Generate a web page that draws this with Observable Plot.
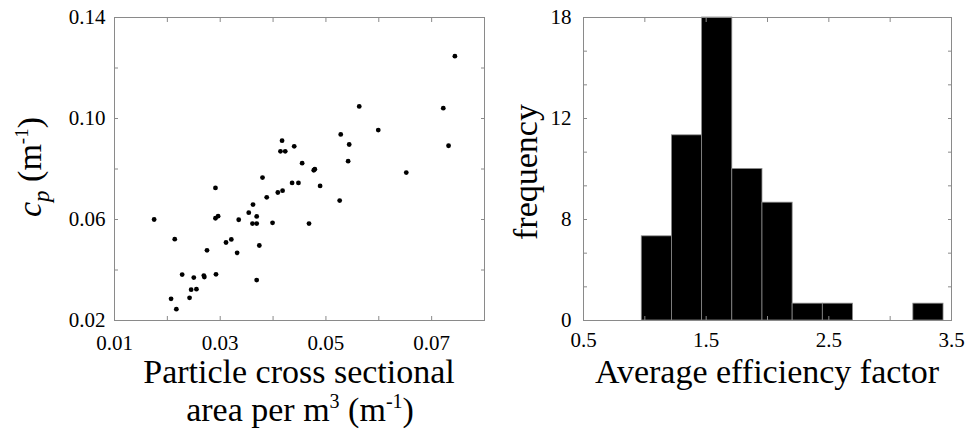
<!DOCTYPE html>
<html><head><meta charset="utf-8">
<script src="https://cdn.jsdelivr.net/npm/d3@7"></script>
<script src="https://cdn.jsdelivr.net/npm/@observablehq/plot@0.6"></script>
<style>
body{margin:0;background:#fff;}
#wrap{display:flex;flex-direction:row;width:975px;height:431px;}
#wrap svg{flex:none;}
</style></head><body><div id="wrap"></div>
<script>
// Left panel: scatter
const areaPerM3 = [0.0175, 0.0214, 0.0207, 0.0217, 0.0228, 0.0242, 0.0245, 0.0250, 0.0255, 0.0269, 0.0270, 0.0275, 0.0291, 0.0291, 0.0296, 0.0292, 0.0311, 0.0321, 0.0332, 0.0335, 0.0354, 0.0362, 0.0361, 0.0369, 0.0369, 0.0369, 0.0374, 0.0380, 0.0388, 0.0399, 0.0409, 0.0418, 0.0414, 0.0423, 0.0417, 0.0436, 0.0440, 0.0448, 0.0455, 0.0468, 0.0477, 0.0479, 0.0489, 0.0526, 0.0528, 0.0542, 0.0544, 0.0563, 0.0599, 0.0652, 0.0722, 0.0732, 0.0744];
const cp = [0.0600, 0.0522, 0.0286, 0.0245, 0.0382, 0.0290, 0.0322, 0.0370, 0.0324, 0.0378, 0.0372, 0.0478, 0.0725, 0.0605, 0.0613, 0.0383, 0.0509, 0.0521, 0.0468, 0.0599, 0.0627, 0.0659, 0.0584, 0.0584, 0.0612, 0.0360, 0.0497, 0.0766, 0.0688, 0.0587, 0.0707, 0.0714, 0.0870, 0.0870, 0.0912, 0.0745, 0.0890, 0.0745, 0.0823, 0.0584, 0.0795, 0.0799, 0.0733, 0.0675, 0.0937, 0.0831, 0.0897, 0.1048, 0.0954, 0.0786, 0.1041, 0.0892, 0.1247];
const xTicksL = [0.01, 0.02, 0.03, 0.04, 0.05, 0.06, 0.07, 0.08];
const xTickLabelsL = ["0.01", "", "0.03", "", "0.05", "", "0.07", ""];
const yTicksL = [0.02, 0.04, 0.06, 0.08, 0.10, 0.12, 0.14];
const yTickLabelsL = ["0.02", "", "0.06", "", "0.10", "", "0.14"];

// Right panel: histogram
const binLo = [0.975, 1.221, 1.467, 1.713, 1.959, 2.205, 2.451, 2.697, 2.943, 3.189];
const binHi = [1.221, 1.467, 1.713, 1.959, 2.205, 2.451, 2.697, 2.943, 3.189, 3.435];
const counts = [5, 11, 18, 9, 7, 1, 1, 0, 0, 1];
const xTicksR = [0.5, 1.0, 1.5, 2.0, 2.5, 3.0, 3.5];
const xTickLabelsR = ["0.5", "", "1.5", "", "2.5", "", "3.5"];
const yTicksR = [0, 2, 4, 6, 8, 10, 12, 14, 16, 18];
const yTickLabelsR = ["0", "", "", "8", "", "", "12", "", "", "18"];

const gray = "#8a8a8a";
const serifFont = "Liberation Serif";
const plotStyle = "font-family: 'Liberation Serif'; font-size: 21px;";
const lab = (ticks, labels) => d => labels[ticks.indexOf(d)];
const blank = () => "";

const points = areaPerM3.map((x, i) => ({x, y: cp[i]}));
const bins = counts.map((n, i) => ({lo: binLo[i], hi: binHi[i], n})).filter(d => d.n > 0);

const leftPlot = Plot.plot({
  width: 500, height: 431,
  marginLeft: 114, marginRight: 16, marginTop: 17, marginBottom: 111,
  style: plotStyle,
  x: {domain: [0.01, 0.08]},
  y: {domain: [0.02, 0.14]},
  marks: [
    Plot.frame({stroke: gray}),
    Plot.axisX(xTicksL, {anchor: "bottom", tickSize: -4, tickPadding: 19, stroke: gray, fill: "black", tickFormat: lab(xTicksL, xTickLabelsL), label: null}),
    Plot.axisX(xTicksL, {anchor: "top", tickSize: -4, stroke: gray, tickFormat: blank, label: null}),
    Plot.axisY(yTicksL, {anchor: "left", tickSize: -4, tickPadding: 13, stroke: gray, fill: "black", tickFormat: lab(yTicksL, yTickLabelsL), label: null}),
    Plot.axisY(yTicksL, {anchor: "right", tickSize: -4, stroke: gray, tickFormat: blank, label: null}),
    Plot.dot(points, {x: "x", y: "y", r: 2.4, fill: "black", stroke: null})
  ]
});

const rightPlot = Plot.plot({
  width: 475, height: 431,
  marginLeft: 83, marginRight: 24, marginTop: 17, marginBottom: 111,
  style: plotStyle,
  x: {domain: [0.5, 3.5]},
  y: {domain: [0, 18]},
  marks: [
    Plot.rectY(bins, {x1: "lo", x2: "hi", y: "n", fill: "black", stroke: gray, strokeWidth: 0.8}),
    Plot.frame({stroke: gray}),
    Plot.axisX(xTicksR, {anchor: "bottom", tickSize: -4, tickPadding: 16, stroke: gray, fill: "black", tickFormat: lab(xTicksR, xTickLabelsR), label: null}),
    Plot.axisX(xTicksR, {anchor: "top", tickSize: -4, stroke: gray, tickFormat: blank, label: null}),
    Plot.axisY(yTicksR, {anchor: "left", tickSize: -4, tickPadding: 16, stroke: gray, fill: "black", tickFormat: lab(yTicksR, yTickLabelsR), label: null}),
    Plot.axisY(yTicksR, {anchor: "right", tickSize: -4, stroke: gray, tickFormat: blank, label: null})
  ]
});

document.getElementById("wrap").append(leftPlot, rightPlot);

// Axis titles (rich text with sub/superscripts)
const L = d3.select(leftPlot), R = d3.select(rightPlot);
const titleSize = 34;
function addText(sel, x, y, rotate) {
  return sel.append("text")
    .attr("transform", rotate ? `translate(${x},${y}) rotate(-90)` : `translate(${x},${y})`)
    .attr("text-anchor", "middle")
    .attr("font-family", serifFont)
    .attr("font-size", titleSize)
    .attr("fill", "black");
}
addText(L, 299, 383).text("Particle cross sectional");
{
  const t = addText(L, 300, 421);
  t.append("tspan").text("area per m");
  t.append("tspan").attr("font-size", 20).attr("dy", -13).text("3");
  t.append("tspan").attr("dy", 13).text(" (m");
  t.append("tspan").attr("font-size", 20).attr("dy", -13).text("-1");
  t.append("tspan").attr("dy", 13).text(")");
}
{
  const t = addText(L, 41, 167, true);
  t.append("tspan").attr("font-style", "italic").text("c");
  t.append("tspan").attr("font-style", "italic").attr("font-size", 23).attr("dy", 8).text("p");
  t.append("tspan").attr("dy", -8).text(" (m");
  t.append("tspan").attr("font-size", 19).attr("dy", -13).text("-1");
  t.append("tspan").attr("dy", 13).text(")");
}
addText(R, 267, 383).text("Average efficiency factor");
addText(R, 37, 172, true).text("frequency");
</script>
</body></html>
